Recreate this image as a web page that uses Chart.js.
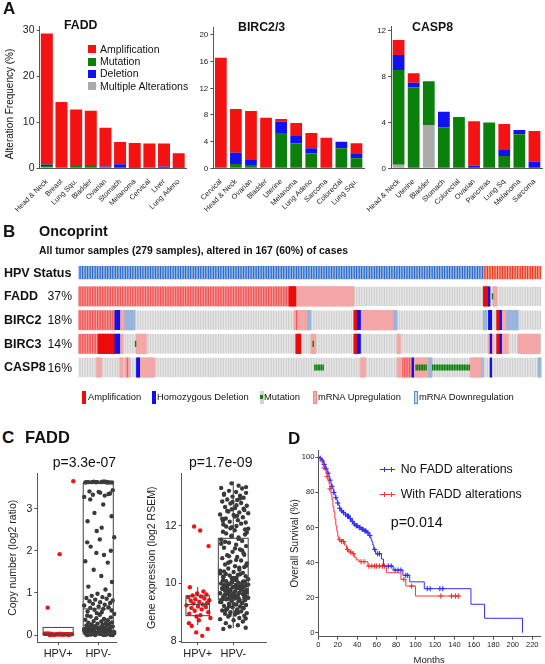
<!DOCTYPE html>
<html><head><meta charset="utf-8"><title>FADD alterations figure</title>
<script src="https://cdn.jsdelivr.net/npm/chart.js@4.4.1/dist/chart.umd.min.js"></script>
<style>
html,body{margin:0;padding:0;background:#fff}
body{width:545px;height:664px;position:relative;overflow:hidden;font-family:'Liberation Sans',Arial,Helvetica,sans-serif;color:#111}
canvas{position:absolute;display:block}
.t{position:absolute;white-space:nowrap;line-height:1}
.b{font-weight:bold}
.sw{position:absolute;box-sizing:border-box}
</style></head><body>
<canvas id="a1" width="190" height="235" style="left:0;top:0"></canvas>
<canvas id="a2" width="176" height="235" style="left:190px;top:0"></canvas>
<canvas id="a3" width="179" height="235" style="left:366px;top:0"></canvas>
<canvas id="onco" width="464" height="122" style="left:78px;top:259px"></canvas>
<canvas id="cn" width="125" height="199" style="left:0;top:465px"></canvas>
<canvas id="ge" width="147" height="199" style="left:125px;top:465px"></canvas>
<canvas id="km" width="273" height="227" style="left:272px;top:440px"></canvas>
<script>
// ---------------- DATA ----------------
// Panel A: alteration frequency (%) by cancer type
const faddCats = ['Head & Neck','Breast','Lung Squ.','Bladder','Ovarian','Stomach','Melanoma','Cervical','Liver','Lung Adeno'];
const faddMulti = [0.2,0,0,0,0,0,0,0,0,0];
const faddMut   = [0.3,0,0.5,0.7,0.2,0,0,0,0,0];
const faddDel   = [0.3,0,0,0,0.2,0.9,0.3,0,0.4,0.3];
const faddAmp   = [28.5,14.4,12.3,11.8,8.4,4.8,5.2,5.4,5.0,3.0];

const bircCats = ['Cervical','Head & Neck','Ovarian','Bladder','Uterine','Melanoma','Lung Adeno','Sarcoma','Colorectal','Lung Squ.'];
const bircMulti = [0,0,0,0,0,0,0,0,0,0];
const bircMut   = [0,0.65,0.5,0,5.3,3.76,2.25,0,3.0,1.5];
const bircDel   = [0,1.7,0.75,0,1.7,1.1,0.75,0,1.0,0.65];
const bircAmp   = [16.6,6.55,7.35,7.6,0.4,1.94,2.3,4.6,0,1.6];

const caspCats = ['Head & Neck','Uterine','Bladder','Stomach','Colorectal','Ovarian','Pancreas','Lung Sq','Melanoma','Sarcoma'];
const caspMulti = [0.3,0,3.78,0,0,0,0,0,0,0];
const caspMut   = [8.27,7.06,3.82,3.57,4.47,0,4.0,1.07,2.96,0];
const caspDel   = [1.31,0.41,0,1.37,0,0.23,0,0.59,0.38,0.58];
const caspAmp   = [1.32,0.81,0,0,0,3.87,0,2.2,0,2.67];

const altTypes = ['Amplification','Mutation','Deletion','Multiple Alterations'];

// Panel B: oncoprint, sample index ranges [first,last]
const nSamples = 279;
const hpvNegSegs = [[0,243]];
const hpvPosSegs = [[244,278]];
const oncoGenes = ['FADD','BIRC2','BIRC3','CASP8'];
const oncoPct = ['37%','18%','14%','16%'];
const ampSegs  = [[[0,130],[244,246]], [[0,21],[131,131],[166,167],[252,253]], [[0,21],[131,133],[166,167],[252,253]], [[29,29],[195,200]]];
const delSegs  = [[[247,247]], [[22,24],[168,169],[247,248],[254,254]], [[22,24],[168,169],[248,248],[254,254]], [[35,36],[201,201],[248,248]]];
const mutSegs  = [[[249,249]], [], [[34,34],[141,141]], [[142,147],[203,209],[213,235]]];
const upSegs   = [[[0,126],[131,165],[250,251]], [[0,21],[25,27],[130,137],[170,189],[255,257]], [[0,11],[25,26],[35,40],[140,142],[192,193],[247,249],[255,258],[265,277]], [[11,13],[25,26],[28,30],[37,45],[170,172],[192,200],[202,210],[236,242]]];
const downSegs = [[], [[28,33],[138,139],[190,191],[244,245],[258,264]], [], [[211,212],[243,243],[277,278]]];
const oncoLegend = ['Amplification','Homozygous Deletion','Mutation','mRNA Upregulation','mRNA Downregulation'];

// Panel C: FADD copy number and expression by HPV status
const hpvGroups = ['HPV+','HPV-'];
const cnPos = [3.65,1.92,0.65,0.03,0.02,0.02,0.01,0.03,0.02,0.0,0.01,0.02,0.03,0.01,0.02,0.0,0.02,0.01,0.03,0.02,0.01,0.02,0.0,0.03,0.02,0.01,0.02,0.03,0.01,0.02,0.0,0.02,0.01,0.02,0.03];
const cnNeg = [3.63,3.64,3.62,3.63,3.64,3.63,3.62,3.63,3.64,3.63,3.62,3.63,3.64,3.63,3.62,3.63,
  3.44,3.41,3.38,3.36,3.33,3.31,3.28,3.4,3.35,3.22,
  3.1,2.9,2.82,2.7,2.55,2.47,2.32,2.27,2.2,2.1,2.0,1.95,1.9,1.75,1.72,1.55,1.4,1.26,1.15,1.08,
  0.98,0.95,0.93,0.9,0.88,0.86,0.84,0.82,0.8,0.78,0.76,0.74,0.72,0.7,0.68,0.66,0.64,0.62,0.6,0.58,0.56,0.54,0.52,0.5,
  0.48,0.46,0.44,0.42,0.4,0.38,0.36,0.35,0.33,0.32,0.3,0.29,0.28,0.27,0.26,0.25,0.24,0.23,0.22,0.21,0.2,
  0.19,0.18,0.17,0.16,0.15,0.14,0.13,0.12,0.11,0.1,0.09,0.08,0.07,0.06,0.05,0.04,0.03,0.02,0.01,0.0,
  0.18,0.16,0.14,0.12,0.1,0.08,0.07,0.06,0.05,0.04,0.03,0.02,0.02,0.01,0.01,0.0,0.0,0.03,0.05,0.09,
  0.17,0.13,0.11,0.08,0.06,0.04,0.03,0.02,0.01,0.0,0.02,0.04,0.07,0.12,0.15,0.19,0.01,0.03,0.0,0.05];
const cnQ1 = [0.0,0.03], cnMed = [0.02,0.62], cnQ3 = [0.18,3.6], cnLo = [0.0,0.0], cnHi = [0.18,3.6];

const gePos = [11.98,11.84,11.3,9.87,9.72,9.65,9.62,9.58,9.55,9.52,9.48,9.45,9.42,9.4,9.36,9.32,9.3,9.27,9.24,9.2,9.18,9.15,9.1,9.05,9.0,8.95,8.9,8.85,8.8,8.72,8.62,8.52,8.42,8.3,8.18];
const geNeg = [13.48,13.4,13.32,13.3,13.22,13.18,13.15,13.12,13.05,13.02,12.98,12.92,12.9,12.85,12.8,12.78,12.7,12.66,12.62,12.55,12.5,12.47,12.4,12.38,12.3,12.26,12.2,12.15,12.12,12.05,12.0,11.96,11.9,11.85,11.8,11.74,11.7,11.63,11.6,11.52,11.48,11.42,11.35,11.3,11.24,11.18,11.1,11.05,10.98,10.92,10.88,10.8,10.76,10.7,10.66,10.6,10.57,10.52,10.48,10.44,10.4,10.37,10.33,10.3,10.28,10.25,10.22,10.2,10.18,10.15,10.13,10.1,10.08,10.06,10.04,10.02,10.0,9.99,9.97,9.95,9.93,9.92,9.9,9.88,9.87,9.85,9.83,9.82,9.8,9.78,9.77,9.75,9.73,9.72,9.7,9.68,9.66,9.65,9.63,9.61,9.6,9.58,9.56,9.55,9.53,9.51,9.5,9.48,9.46,9.45,9.42,9.4,9.38,9.35,9.32,9.3,9.27,9.25,9.22,9.2,9.17,9.14,9.12,9.1,9.06,9.03,9.0,8.97,8.95,8.92,8.88,8.85,8.8,8.76,8.72,8.68,8.62,8.55,8.5,8.46,8.42,
  12.72,12.58,12.44,12.33,12.18,11.98,11.88,11.66,11.55,11.38,11.15,10.95,10.82,10.62,10.42,10.32,10.16,10.07,9.98,9.91,9.84,9.79,9.74,9.69,9.62,9.57,9.52,9.47,9.41,9.36,9.28,9.16,9.08,8.98,8.9,8.78,10.24,10.11,10.03,9.96,9.89,9.81,9.76,9.67,9.59,9.49,9.43,9.33,9.21,9.02,13.35,13.08,12.95,12.83,12.6,12.52,12.35,12.25,12.08,11.92,11.77,11.45,11.22,11.0,10.72,10.55,10.35,10.19,10.05];
const geQ1 = [8.88,9.45], geMed = [9.27,10.0], geQ3 = [9.57,11.57], geLo = [8.55,8.45], geHi = [9.88,13.55];

// Panel D: Kaplan-Meier overall survival (%), months
const kmNoT = [0,2,3,5,6,7,8,9,10,11,12,13,14,15,16,17,18,19,20,21,22,23,25,28,30,32,34,36,38,41,44,47,50,52,54,55,56,57,59,65,67,77,87,94,109,157,171,210];
const kmNoS = [100,99.5,98.9,97.5,96,95,93.5,92,91,89,87,85,83.5,82,80,78.5,77,75.5,74,72.5,71,69.5,68.5,67.5,66.5,65,63.5,62,61,60,59,58,57,55.5,53.5,52,50,47.5,45,42,38,35.7,32.7,29,25.1,16.2,8.2,0];
const kmAltT = [0,3,5,7,8,9,10,11,12,13,14,15,16,17,18,19,20,21,25,27,29,31,35,37,39,42,51,70,85,90,100,145];
const kmAltS = [100,98,95,93,91,89,87,85,82,79,76,72,69,65,61,58,55,53,52,50,47.5,46,45,43,41.5,40.5,38,34.2,30.4,26.6,20.9,20.9];
const cenNoT = [2,4,6,8,10,12,14,16,18,20,22,24,26,28,30,31,33,35,37,39,40,42,43,45,46,48,49,51,53,58,61,63,72,75,79,82,85,90,92,112,115,125,128];
const cenNoS = [99.5,98,96,93.5,91,87,83.5,80,77,74,71,69.5,68.5,67.5,66.5,66.5,65,63.5,62,61,61,60,60,59,59,58,58,57,55.5,47.5,45,45,38,38,35.7,35.7,35.7,32.7,32.7,25.1,25.1,25.1,25.1];
const cenAltT = [6,9,12,22,24,26,30,33,36,44,47,52,55,58,60,63,66,68,88,96,126,137,141,144];
const cenAltS = [94,89,82,53,52,52,47.5,46,45,40.5,40.5,38,38,38,38,38,38,38,30.4,26.6,20.9,20.9,20.9,20.9];
const kmXTicks = [0,20,40,60,80,100,120,140,160,180,200,220];
const kmYTicks = [0,20,40,60,80,100];
const kmSeries = ['No FADD alterations','With FADD alterations'];

// ---------------- STYLE ----------------
const FONT = "'Liberation Sans', Arial, Helvetica, sans-serif";
Chart.defaults.font.family = FONT;
Chart.defaults.color = '#222';
Chart.defaults.animation = false;
const COL = {amp:'#f51212', mut:'#0b800b', del:'#1212f0', multi:'#aaaaaa'};
const AX = '#555';

function txt(s, x, cy, size, o = {}) {
  const d = document.createElement('div');
  d.className = 't' + (o.bold ? ' b' : '');
  d.textContent = s;
  d.style.fontSize = size + 'px';
  d.style.left = x + 'px';
  d.style.top = (cy - size * 0.49) + 'px';
  if (o.color) d.style.color = o.color;
  if (o.right) d.style.transform = 'translateX(-100%)';
  if (o.rot) { d.style.top = cy + 'px'; d.style.transform = 'translate(-50%,-50%) rotate(-90deg)'; }
  document.body.appendChild(d);
  return d;
}
function box(x, y, w, h, bg, border) {
  const d = document.createElement('div');
  d.className = 'sw';
  Object.assign(d.style, {left: x + 'px', top: y + 'px', width: w + 'px', height: h + 'px', background: bg});
  if (border) d.style.border = border;
  document.body.appendChild(d);
  return d;
}

// ---------------- PANEL A ----------------
function aChart(id, cats, multi, mut, del, amp, o) {
  return new Chart(document.getElementById(id), {
    type: 'bar',
    data: {labels: cats, datasets: [
      {label: altTypes[3], data: multi, backgroundColor: COL.multi},
      {label: altTypes[1], data: mut, backgroundColor: COL.mut},
      {label: altTypes[2], data: del, backgroundColor: COL.del},
      {label: altTypes[0], data: amp, backgroundColor: COL.amp}
    ]},
    options: {
      responsive: false, animation: false, events: [],
      layout: {padding: {left: 0, right: o.padR, top: o.padT, bottom: 0}},
      plugins: {legend: {display: false}, tooltip: {enabled: false}},
      datasets: {bar: {barPercentage: o.barPct, categoryPercentage: 1, borderWidth: 0}},
      scales: {
        x: {stacked: true, grid: {display: false}, border: {display: true, color: AX, width: 1},
            ticks: {autoSkip: false, minRotation: 45, maxRotation: 45, padding: 1, color: '#222', font: {size: 7.3}},
            afterFit: s => { s.height = o.xH; }},
        y: {stacked: true, min: 0, max: o.yMax, border: {display: true, color: AX, width: 1},
            grid: {drawOnChartArea: false, drawTicks: true, tickLength: 3, color: AX},
            ticks: {stepSize: o.step, includeBounds: false, padding: 2, color: '#222', font: {size: o.tickSize}},
            afterFit: s => { s.width = o.yW; }}
      }
    }
  });
}
aChart('a1', faddCats, faddMulti, faddMut, faddDel, faddAmp, {padR: 4, padT: 26.7, xH: 66.7, yW: 39.5, yMax: 30.8, step: 10, tickSize: 10.5, barPct: 0.82});
aChart('a2', bircCats, bircMulti, bircMut, bircDel, bircAmp, {padR: 2, padT: 27, xH: 66.7, yW: 23.3, yMax: 21.2, step: 4, tickSize: 8, barPct: 0.78});
aChart('a3', caspCats, caspMulti, caspMut, caspDel, caspAmp, {padR: 3, padT: 26.7, xH: 66.7, yW: 23.5, yMax: 12.35, step: 4, tickSize: 8, barPct: 0.78});

txt('A', 3, 8, 17, {bold: true});
txt('FADD', 64, 25.5, 12.3, {bold: true});
txt('BIRC2/3', 238, 27, 12.3, {bold: true});
txt('CASP8', 412, 27, 12.3, {bold: true});
txt('Alteration Frequency (%)', 10, 104, 10, {rot: true});
const legA = [[COL.amp, 49], [COL.mut, 61.5], [COL.del, 73.5], [COL.multi, 86]];
legA.forEach(([c, cy], i) => { box(88, cy - 4, 8, 8, c); txt(altTypes[i], 100, cy, 10.5); });

// ---------------- PANEL B ----------------
txt('B', 3, 231.5, 17, {bold: true});
txt('Oncoprint', 39, 231, 14.4, {bold: true});
txt('All tumor samples (279 samples), altered in 167 (60%) of cases', 39, 250.7, 10.4, {bold: true});
txt('HPV Status', 4, 272.7, 12.5, {bold: true});
oncoGenes.forEach((g, i) => {
  const cy = 296.4 + i * 23.7;
  txt(g, 4, cy, 12.5, {bold: true});
  txt(oncoPct[i], 72, cy, 12.2, {right: true});
});

const sampleIds = Array.from({length: nSamples}, (_, i) => 'S' + (i + 1));
const inSegs = (segs, i) => segs.some(([a, b]) => i >= a && i <= b);
function cells(test, lo, hi) {
  return sampleIds.map((_, i) => test(i) ? [lo, hi] : null);
}
const H = 0.41, HM = 0.13, HH = 0.28;
// listed bottom layer first
const oncoSets = [];
oncoSets.push({data: cells(i => inSegs(hpvNegSegs, i), -HH, HH), backgroundColor: '#2a6ccd', barPercentage: 0.75});
oncoSets.push({data: cells(i => inSegs(hpvPosSegs, i), -HH, HH), backgroundColor: '#ec3a18', barPercentage: 0.75});
oncoGenes.forEach((g, k) => {
  const r = k + 1;
  oncoSets.push({data: cells(() => true, r - H, r + H), backgroundColor: '#d0d0d0', barPercentage: 0.78});
  oncoSets.push({data: cells(i => inSegs(upSegs[k], i), r - H, r + H), backgroundColor: '#f5a7a7', barPercentage: 1.0, inflateAmount: 0.4});
  oncoSets.push({data: cells(i => inSegs(downSegs[k], i), r - H, r + H), backgroundColor: '#98b6dc', barPercentage: 1.0, inflateAmount: 0.4});
  oncoSets.push({data: cells(i => inSegs(ampSegs[k], i) && !inSegs(upSegs[k], i), r - H, r + H), backgroundColor: '#ee0a0a', barPercentage: 1.0, inflateAmount: 0.4});
  oncoSets.push({data: cells(i => inSegs(ampSegs[k], i) && inSegs(upSegs[k], i), r - H, r + H), backgroundColor: '#f03a3a', barPercentage: 0.45});
  oncoSets.push({data: cells(i => inSegs(delSegs[k], i), r - H, r + H), backgroundColor: '#0f0fee', barPercentage: 1.0, inflateAmount: 0.3});
  oncoSets.push({data: cells(i => inSegs(mutSegs[k], i), r - HM, r + HM), backgroundColor: '#0f820f', barPercentage: 0.9});
});
oncoSets.forEach((d, i) => { d.grouped = false; d.categoryPercentage = 1; d.borderWidth = 0; d.order = oncoSets.length - i; if (d.inflateAmount === undefined) d.inflateAmount = 0; });
new Chart(document.getElementById('onco'), {
  type: 'bar',
  data: {labels: sampleIds, datasets: oncoSets},
  options: {
    responsive: false, animation: false, events: [],
    layout: {padding: {left: 0.3, right: 0.5, top: 1.85, bottom: 1.65}},
    plugins: {legend: {display: false}, tooltip: {enabled: false}},
    scales: {
      x: {display: false, offset: true},
      y: {display: false, min: -0.5, max: 4.5, reverse: true}
    }
  }
});
// oncoprint legend
const legB = [
  [81.5, 88, '#ee0a0a', null],
  [151.5, 157, '#0f0fee', null],
  [259.5, 264, '#d3d3d3', 'mut'],
  [312.5, 318, '#f5abab', '1px solid #ee8d8d'],
  [413.5, 419, '#c9d8ea', '1px solid #5a8cc8']
];
legB.forEach(([sx, tx, c, b], i) => {
  box(sx, 390.5, 4, 13, c, b === 'mut' ? null : b);
  if (b === 'mut') box(sx + 0.5, 395, 3, 4, '#0f820f');
  txt(oncoLegend[i], tx, 397, 9.4);
});

// ---------------- PANEL C ----------------
txt('C', 2, 437.5, 17, {bold: true});
txt('FADD', 25, 437.5, 16.5, {bold: true});
txt('p=3.3e-07', 52.7, 461.7, 14);
txt('p=1.7e-09', 189, 461.7, 14);

// horizontal spread pattern for the dot strips (layout only)
const jit = [0.42,0.04,-0.29,-0.2,0.33,-0.05,0.15,-0.34,0.25,-0.12,0.08,0.36,-0.26,0.19,-0.02,0.29,-0.17,0.11,-0.31,0.22,-0.08,0.38,-0.23,0.05,0.31,-0.14,0.17,-0.37,0.01,0.27,-0.21,0.13,-0.1,0.35,-0.28,0.09,-0.04];

function boxPlugin(q1, med, q3, lo, hi, half) {
  return {
    id: 'boxes',
    afterDatasetsDraw(chart) {
      const {ctx, scales: {x, y}} = chart;
      ctx.save();
      ctx.strokeStyle = '#444'; ctx.lineWidth = 1;
      q1.forEach((v, g) => {
        const xl = x.getPixelForValue(g - half[g]), xr = x.getPixelForValue(g + half[g]), xc = x.getPixelForValue(g);
        const yq1 = y.getPixelForValue(v), yq3 = y.getPixelForValue(q3[g]), ym = y.getPixelForValue(med[g]);
        ctx.strokeRect(xl, yq3, xr - xl, yq1 - yq3);
        ctx.beginPath();
        ctx.moveTo(xl, ym); ctx.lineTo(xr, ym);
        ctx.moveTo(xc, yq3); ctx.lineTo(xc, y.getPixelForValue(hi[g]));
        ctx.moveTo(xc, yq1); ctx.lineTo(xc, y.getPixelForValue(lo[g]));
        ctx.stroke();
      });
      ctx.restore();
    }
  };
}
function stripChart(id, pos, neg, st, o) {
  return new Chart(document.getElementById(id), {
    type: 'scatter',
    data: {datasets: [
      {label: hpvGroups[1], data: neg.map((v, i) => ({x: 1 + jit[(i + 5) % jit.length] * o.spread, y: v})), backgroundColor: '#3a3a3a', borderWidth: 0, pointRadius: 2.2},
      {label: hpvGroups[0], data: pos.map((v, i) => ({x: 0 + jit[(i + o.shift) % jit.length] * o.spreadPos, y: v})), backgroundColor: '#ee1515', borderWidth: 0, pointRadius: 2.2}
    ]},
    options: {
      responsive: false, animation: false, events: [],
      layout: {padding: {left: 0, right: o.padR, top: o.padT, bottom: 0}},
      plugins: {legend: {display: false}, tooltip: {enabled: false}},
      scales: {
        x: {type: 'linear', min: o.xMin, max: o.xMax,
            afterBuildTicks: s => { s.ticks = [{value: 0}, {value: 1}]; },
            ticks: {callback: v => hpvGroups[v], padding: 2, color: '#222', font: {size: 11}},
            grid: {drawOnChartArea: false, tickLength: 3, color: AX}, border: {color: AX},
            afterFit: s => { s.height = o.xH; }},
        y: {min: o.yMin, max: o.yMax,
            afterBuildTicks: s => { s.ticks = o.yTicks.map(v => ({value: v})); },
            ticks: {padding: 2, color: '#222', font: {size: 10.5}},
            grid: {drawOnChartArea: false, tickLength: 3, color: AX}, border: {color: AX},
            title: {display: true, text: o.yTitle, font: {size: 10.5}, color: '#222', padding: {top: o.titlePad, bottom: 0}},
            afterFit: s => { s.width = o.yW; }}
      }
    },
    plugins: [boxPlugin(st[0], st[1], st[2], st[3], st[4], o.half)]
  });
}
const cnYTicks = [0, 1, 2, 3];
const geYTicks = [8, 10, 12];
stripChart('cn', cnPos, cnNeg, [cnQ1, cnMed, cnQ3, cnLo, cnHi],
  {spread: 0.95, spreadPos: 0.9, shift: 0, padR: 8.3, padT: 8, xH: 21.7, yW: 37.3, xMin: -0.52, xMax: 1.46, yMin: -0.173, yMax: 3.84,
   yTicks: cnYTicks, yTitle: 'Copy number (log2 ratio)', titlePad: 6.7, half: [0.375, 0.375]});
stripChart('ge', gePos, geNeg, [geQ1, geMed, geQ3, geLo, geHi],
  {spread: 1.0, spreadPos: 0.85, shift: 9, padR: 5.3, padT: 8, xH: 21.7, yW: 56.7, xMin: -0.45, xMax: 1.94, yMin: 7.955, yMax: 13.83,
   yTicks: geYTicks, yTitle: 'Gene expression (log2 RSEM)', titlePad: 20.4, half: [0.33, 0.42]});

// ---------------- PANEL D ----------------
txt('D', 288, 438, 17, {bold: true});
const BLUE = '#3030ff', RED = '#ff3535';
new Chart(document.getElementById('km'), {
  type: 'line',
  data: {datasets: [
    {label: kmSeries[0], data: kmNoT.map((t, i) => ({x: t, y: kmNoS[i]})), borderColor: BLUE, borderWidth: 1, stepped: 'before', pointRadius: 0, fill: false},
    {label: kmSeries[1], data: kmAltT.map((t, i) => ({x: t, y: kmAltS[i]})), borderColor: RED, borderWidth: 1, stepped: 'before', pointRadius: 0, fill: false},
    {label: kmSeries[0] + ' censored', data: cenNoT.map((t, i) => ({x: t, y: cenNoS[i]})), showLine: false, pointStyle: 'cross', pointRadius: 2.6, borderColor: '#2020e0', borderWidth: 1},
    {label: kmSeries[1] + ' censored', data: cenAltT.map((t, i) => ({x: t, y: cenAltS[i]})), showLine: false, pointStyle: 'cross', pointRadius: 2.6, borderColor: '#f02020', borderWidth: 1}
  ]},
  options: {
    responsive: false, animation: false, events: [],
    layout: {padding: {left: 0, right: 5, top: 10, bottom: 0}},
    plugins: {legend: {display: false}, tooltip: {enabled: false}},
    scales: {
      x: {type: 'linear', min: 0, max: 228,
          afterBuildTicks: s => { s.ticks = kmXTicks.map(v => ({value: v})); },
          ticks: {padding: 1, color: '#222', font: {size: 7.5}},
          grid: {drawOnChartArea: false, tickLength: 3, color: AX}, border: {color: AX},
          title: {display: true, text: 'Months', font: {size: 9.5}, color: '#222', padding: {top: 0, bottom: 1.3}},
          afterFit: s => { s.height = 30.3; }},
      y: {min: -2.3, max: 104.2,
          afterBuildTicks: s => { s.ticks = kmYTicks.map(v => ({value: v})); },
          ticks: {padding: 1, color: '#222', font: {size: 7.5}},
          grid: {drawOnChartArea: false, tickLength: 3, color: AX}, border: {color: AX},
          title: {display: true, text: 'Overall Survival (%)', font: {size: 10}, color: '#222', padding: {top: 17, bottom: 0}},
          afterFit: s => { s.width = 46.3; }}
    }
  }
});
// KM legend
[[469.3, BLUE, kmSeries[0]], [494.3, RED, kmSeries[1]]].forEach(([cy, c, label]) => {
  box(380, cy - 0.5, 15, 1, c);
  box(384, cy - 2.5, 1, 5, c); box(391, cy - 2.5, 1, 5, c);
  txt(label, 400.7, cy, 12.3);
});
txt('p=0.014', 390.7, 522.3, 14.3);
</script></body></html>
